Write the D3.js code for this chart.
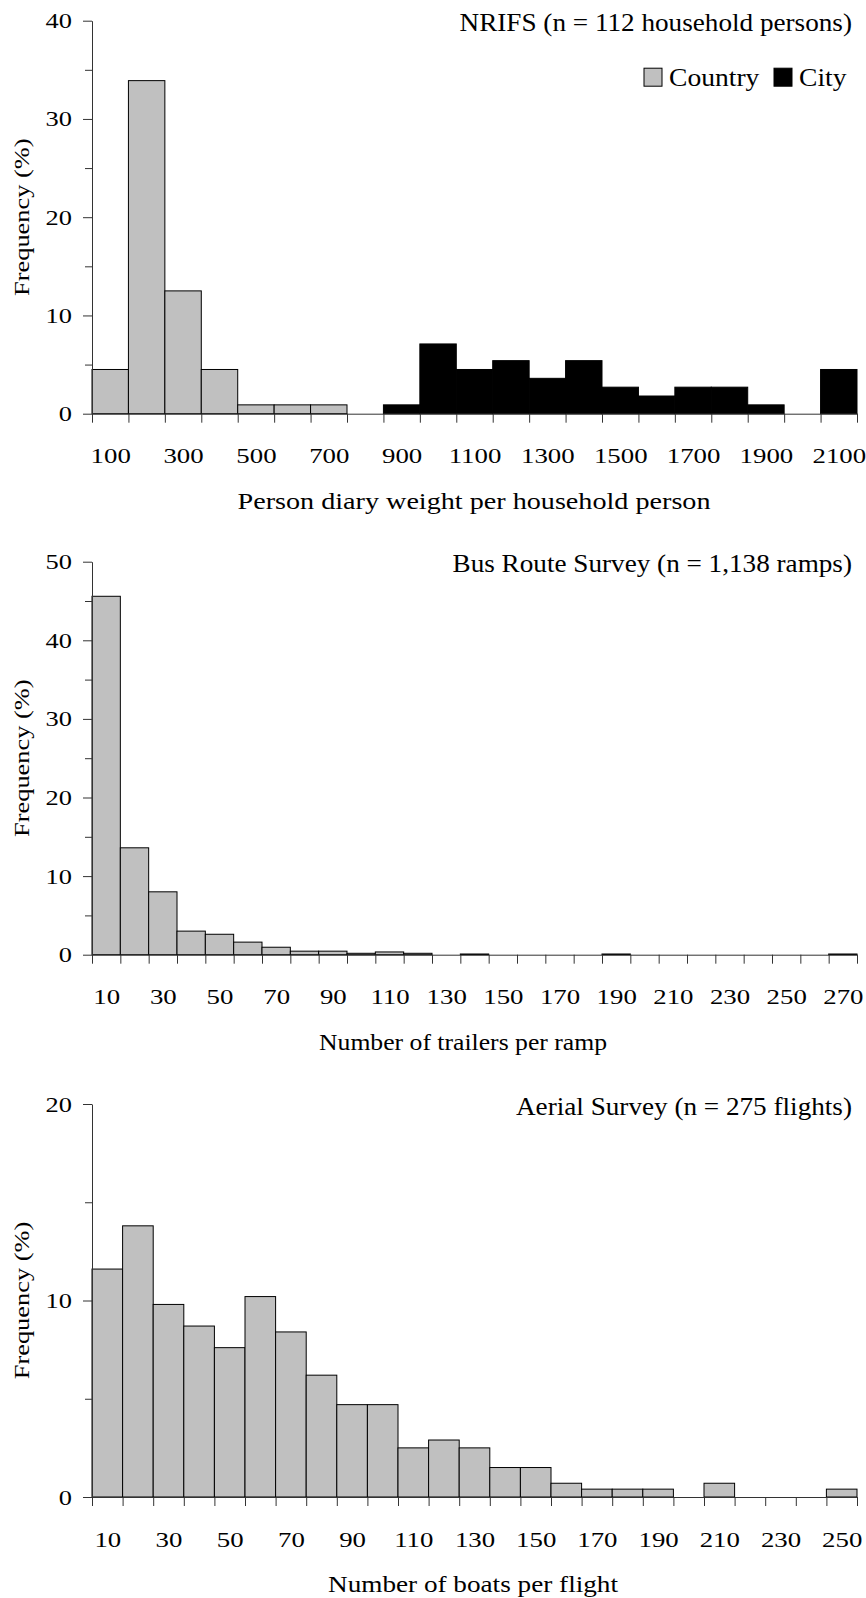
<!DOCTYPE html>
<html>
<head>
<meta charset="utf-8">
<script src="https://cdn.jsdelivr.net/npm/d3@7/dist/d3.min.js"></script>
<style>
  body { margin: 0; background: #fff; }
  svg { display: block; }
  text { font-family: "Liberation Serif", "Times New Roman", serif; fill: #000; }
</style>
</head>
<body>
<svg id="chart" width="866" height="1598"></svg>
<script>
// --- data (percent of sample in each bin) ---
var nrifsBins = [100, 200, 300, 400, 500, 600, 700, 800, 900, 1000, 1100,
                 1200, 1300, 1400, 1500, 1600, 1700, 1800, 1900, 2000, 2100];
var nrifsCountry = [4.5, 33.9, 12.5, 4.5, 0.9, 0.9, 0.9, 0, 0, 0, 0,
                    0, 0, 0, 0, 0, 0, 0, 0, 0, 0];
var nrifsCity = [0, 0, 0, 0, 0, 0, 0, 0, 0.9, 7.1, 4.5,
                 5.4, 3.6, 5.4, 2.7, 1.8, 2.7, 2.7, 0.9, 0, 4.5];

var busBins = [10, 20, 30, 40, 50, 60, 70, 80, 90, 100, 110, 120, 130, 140,
               150, 160, 170, 180, 190, 200, 210, 220, 230, 240, 250, 260, 270];
var busFreq = [45.6, 13.6, 8.0, 3.0, 2.6, 1.6, 0.95, 0.45, 0.45, 0.18, 0.35, 0.18, 0, 0.09,
               0, 0, 0, 0, 0.09, 0, 0, 0, 0, 0, 0, 0, 0.09];

var aerialBins = [10, 20, 30, 40, 50, 60, 70, 80, 90, 100, 110, 120, 130,
                  140, 150, 160, 170, 180, 190, 200, 210, 220, 230, 240, 250];
var aerialFreq = [11.6, 13.8, 9.8, 8.7, 7.6, 10.2, 8.4, 6.2, 4.7, 4.7, 2.5, 2.9, 2.5,
                  1.5, 1.5, 0.7, 0.4, 0.4, 0.4, 0, 0.7, 0, 0, 0, 0.4];

var legendNames = ["Country", "City"];
var legendColors = ["#c0c0c0", "#000000"];

var panels = [
  { title: "NRIFS (n = 112 household persons)", xTitle: "Person diary weight per household person",
    bins: nrifsBins, series: [nrifsCountry, nrifsCity], yMax: 40, top: 20.7, legend: true,
    xTitleX: 474, xTitleW: 473 },
  { title: "Bus Route Survey (n = 1,138 ramps)", xTitle: "Number of trailers per ramp",
    bins: busBins, series: [busFreq], yMax: 50, top: 561.7, xTitleX: 463, xTitleW: 288 },
  { title: "Aerial Survey (n = 275 flights)", xTitle: "Number of boats per flight",
    bins: aerialBins, series: [aerialFreq], yMax: 20, top: 1104, xTitleX: 473, xTitleW: 290 }
];

var left = 92, right = 857, plotH = 393;
var svg = d3.select("#chart");

// widen glyphs a bit, the original figure is stretched sideways
function stretch(sel, k) {
  sel.each(function () {
    var len = this.getComputedTextLength();
    if (len > 0) d3.select(this).attr("textLength", len * k).attr("lengthAdjust", "spacingAndGlyphs");
  });
}

panels.forEach(function (p) {
  var step = p.bins[1] - p.bins[0];
  var lo = p.bins[0] - step / 2, hi = p.bins[p.bins.length - 1] + step / 2;
  var x = d3.scaleLinear().domain([lo, hi]).range([left, right]);
  var y = d3.scaleLinear().domain([0, p.yMax]).range([p.top + plotH, p.top]);
  var g = svg.append("g");

  // bars
  p.series.forEach(function (vals, si) {
    g.append("g").selectAll("rect")
      .data(p.bins.map(function (b, i) { return { b: b, v: vals[i] }; })
                  .filter(function (d) { return d.v > 0; }))
      .enter().append("rect")
        .attr("x", function (d) { return x(d.b - step / 2); })
        .attr("width", function (d) { return x(d.b + step / 2) - x(d.b - step / 2); })
        .attr("y", function (d) { return y(d.v); })
        .attr("height", function (d) { return y(0) - y(d.v); })
        .attr("fill", legendColors[si])
        .attr("stroke", "#000")
        .attr("stroke-width", 1);
  });

  // x axis: tick marks at bin edges
  var edges = p.bins.map(function (b) { return b - step / 2; }).concat([hi]);
  var xa = g.append("g")
    .attr("transform", "translate(0," + y(0) + ")")
    .call(d3.axisBottom(x).tickValues(edges).tickSize(9).tickSizeOuter(0).tickFormat(""));
  xa.select(".domain").attr("stroke", "#333");
  xa.selectAll(".tick line").attr("stroke", "#333");

  // x labels on every other bin
  var xl = g.append("g")
    .attr("transform", "translate(0," + y(0) + ")")
    .call(d3.axisBottom(x).tickValues(p.bins.filter(function (b, i) { return i % 2 === 0; }))
      .tickSize(0).tickPadding(34).tickFormat(d3.format("d")));
  xl.select(".domain").remove();
  xl.selectAll("text").attr("font-size", 22).attr("font-family", null).call(stretch, 1.22);

  // y axis
  var yt = d3.range(0, p.yMax + 1, 5);
  var ya = g.append("g")
    .attr("transform", "translate(" + left + ",0)")
    .call(d3.axisLeft(y).tickValues(yt).tickSize(9).tickPadding(11).tickSizeOuter(0)
      .tickFormat(function (d) { return d % 10 === 0 ? d : ""; }));
  ya.select(".domain").attr("stroke", "#333");
  ya.selectAll(".tick line").attr("stroke", "#333")
    .attr("x2", function (d) { return d % 10 === 0 ? -9 : -7; });
  ya.selectAll("text").attr("font-size", 22).attr("font-family", null).call(stretch, 1.2);

  // titles
  g.append("text")
    .attr("x", 852).attr("y", p.top + 10.5)
    .attr("text-anchor", "end").attr("font-size", 26)
    .text(p.title).call(stretch, 1.045);

  g.append("text")
    .attr("x", p.xTitleX).attr("y", y(0) + 95)
    .attr("text-anchor", "middle").attr("font-size", 23)
    .attr("textLength", p.xTitleW).attr("lengthAdjust", "spacingAndGlyphs")
    .text(p.xTitle);

  g.append("text")
    .attr("transform", "translate(29," + (p.top + plotH / 2) + ") rotate(-90)")
    .attr("text-anchor", "middle").attr("font-size", 22)
    .text("Frequency (%)").call(stretch, 1.2);

  if (p.legend) {
    var lx = [644, 774];
    legendNames.forEach(function (name, i) {
      g.append("rect")
        .attr("x", lx[i]).attr("y", p.top + 47.5).attr("width", 18).attr("height", 18)
        .attr("fill", legendColors[i]).attr("stroke", "#000").attr("stroke-width", 1);
      g.append("text")
        .attr("x", lx[i] + 25).attr("y", p.top + 65.5)
        .attr("font-size", 26).text(name).call(stretch, 1.06);
    });
  }
});
</script>
</body>
</html>
